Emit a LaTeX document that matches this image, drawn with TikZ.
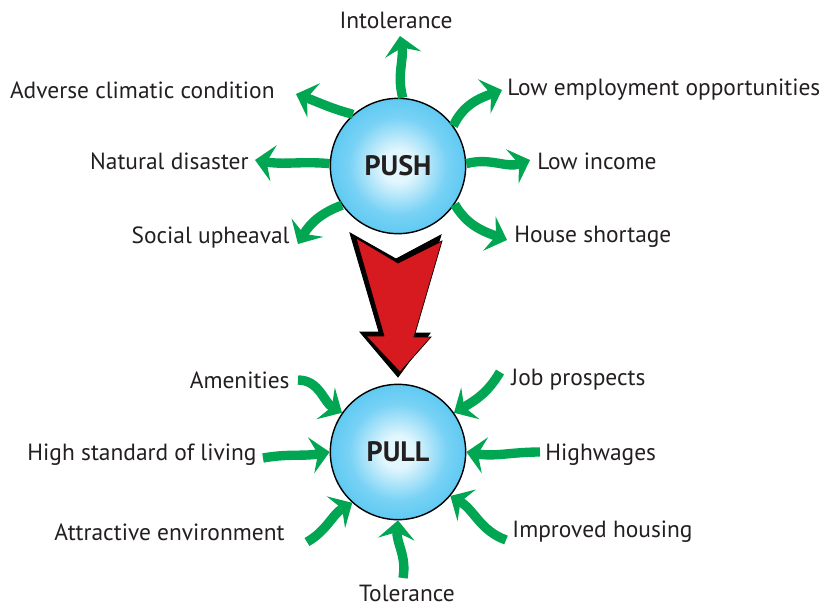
\documentclass[tikz,border=0pt]{standalone}
\usepackage{fontspec}
\setmainfont{PT Sans}
\usetikzlibrary{arrows.meta,positioning,calc}
\definecolor{leafgreen}{RGB}{0,166,81}
\definecolor{arrowred}{RGB}{215,25,32}
\definecolor{inktext}{RGB}{35,31,32}
\definecolor{ballcore}{RGB}{225,246,253}
\definecolor{ballmid}{RGB}{120,210,245}
\definecolor{ballrim}{RGB}{52,186,236}
\pgfdeclareradialshading{ballshade}{\pgfpoint{0bp}{0bp}}{color(0bp)=(ballcore); color(6bp)=(ballcore); color(18bp)=(ballmid); color(38bp)=(ballrim); color(50bp)=(ballrim)}
\tikzset{every picture/.style={line width=0.75pt}}

\begin{document}
\begin{tikzpicture}[x=0.03cm,y=-0.03cm,
    ball/.style={circle,draw=black,line width=1.2pt,shading=ballshade,
        minimum size=4.06cm,font=\fontsize{24}{26}\selectfont\bfseries,text=inktext},
    cause/.style={font=\fontsize{20}{22}\selectfont,text=inktext,inner sep=0pt},
    wavy/.style={draw=leafgreen,line width=8pt,
        -{Stealth[length=16pt,width=31pt,inset=6pt]}}]
    \useasboundingbox (0,0) rectangle (830,606);

    % Push factors
    \node[ball] (push) at (398,166) {PUSH};
    \node[cause] (intol) at (396,20) {Intolerance};
    \node[cause,anchor=east] (adverse) at (275,90) {Adverse climatic condition};
    \node[cause,anchor=east] (disaster) at (249,161) {Natural disaster};
    \node[cause,anchor=east] (upheaval) at (290,237) {Social upheaval};
    \node[cause,anchor=west] (employ) at (507,90) {Low employment opportunities};
    \node[cause,anchor=west] (income) at (537,161) {Low income};
    \node[cause,anchor=west] (house) at (514,237) {House shortage};

    \coordinate (e-intol) at (400,36);
    \coordinate (e-adverse) at (296,94);
    \coordinate (e-disaster) at (255,160);
    \coordinate (e-upheaval) at (298,244);
    \coordinate (e-employ) at (502,90);
    \coordinate (e-income) at (530,160);
    \coordinate (e-house) at (507,240);

    \draw[wavy] (push.86) to[out=105,in=-80] (e-intol);
    \draw[wavy] (push.131) to[out=165,in=-20] (e-adverse);
    \draw[wavy] (push.178) to[out=175,in=-10] (e-disaster);
    \draw[wavy] (push.215) to[out=200,in=60] (e-upheaval);
    \draw[wavy] (push.36) to[out=65,in=200] (e-employ);
    \draw[wavy] (push.2) to[out=15,in=200] (e-income);
    \draw[wavy] (push.-34) to[out=-60,in=160] (e-house);

    % Red arrow from push to pull
    \draw[fill=black,draw=black] (350,233) -- (396,259) -- (441,235) -- (411,333)
        -- (430,333) -- (398,377) -- (360,332) -- (379,332) -- cycle;
    \draw[fill=arrowred,draw=black,line width=0.6pt] (356,238) -- (398,263) -- (442,241)
        -- (414,337) -- (431,337) -- (400,372) -- (366,336) -- (384,336) -- cycle;

    % Pull factors
    \node[ball] (pull) at (398,452) {PULL};
    \node[cause,anchor=east] (amen) at (290,380) {Amenities};
    \node[cause,anchor=east] (living) at (257,455) {High standard of living};
    \node[cause,anchor=east] (attract) at (285,532) {Attractive environment};
    \node[cause,anchor=west] (job) at (511,380) {Job prospects};
    \node[cause,anchor=west] (wages) at (545,455) {Highwages};
    \node[cause,anchor=west] (improved) at (512,532) {Improved housing};
    \node[cause] (toler) at (407,593) {Tolerance};

    \coordinate (s-amen) at (298,380);
    \coordinate (s-living) at (263,458);
    \coordinate (s-attract) at (307,542);
    \coordinate (s-job) at (500,372);
    \coordinate (s-wages) at (540,452);
    \coordinate (s-improved) at (506,540);
    \coordinate (s-toler) at (403,578);

    \draw[wavy] (s-amen) to[out=0,in=150] (pull.145);
    \draw[wavy] (s-living) to[out=10,in=190] (pull.180);
    \draw[wavy] (s-attract) to[out=30,in=210] (pull.228);
    \draw[wavy] (s-job) to[out=240,in=30] (pull.35);
    \draw[wavy] (s-wages) to[out=180,in=-10] (pull.0);
    \draw[wavy] (s-improved) to[out=160,in=-30] (pull.-40);
    \draw[wavy] (s-toler) to[out=80,in=-95] (pull.270);
\end{tikzpicture}
\end{document}
